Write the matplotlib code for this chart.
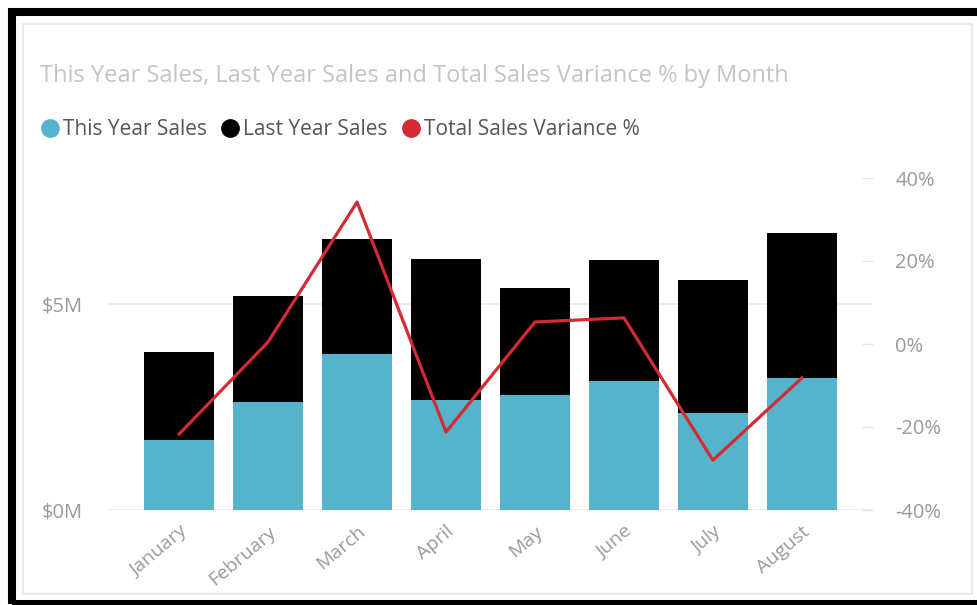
import matplotlib.pyplot as plt
import numpy as np
from matplotlib.lines import Line2D
from matplotlib.patches import Rectangle

plt.rcParams['font.family'] = ['Open Sans', 'DejaVu Sans']

months = ["January", "February", "March", "April", "May", "June", "July", "August"]
this_year = [1.70, 2.62, 3.79, 2.67, 2.79, 3.13, 2.35, 3.20]    # $M
last_year = [2.13, 2.57, 2.79, 3.42, 2.60, 2.94, 3.23, 3.52]    # $M
variance = [-21.7, 0.5, 34.2, -21.2, 5.3, 6.3, -28.0, -8.2]     # %

c_this = "#55b3cc"
c_last = "#000000"
c_var = "#d42a34"
grey_txt = "#9a9a9a"

W, H = 977, 605
fig = plt.figure(figsize=(W / 100, H / 100), dpi=100)

def px(x, y):
    return x / W, 1 - y / H

# outer black frame (runs off the right edge) and inner light panel
fig.patches.append(Rectangle(px(12, 604), (990 - 12) / W, (604 - 12) / H,
                             transform=fig.transFigure, fill=False,
                             edgecolor="black", linewidth=5.8, zorder=0))
fig.patches.append(Rectangle(px(23, 594), (972 - 23) / W, (594 - 24) / H,
                             transform=fig.transFigure, fill=False,
                             edgecolor="#e6e6e6", linewidth=1.2, zorder=0))

x0, y0 = px(108, 510)
x1, y1 = px(873, 178)
ax = fig.add_axes([x0, y0, x1 - x0, y1 - y0])
ax2 = ax.twinx()

x = np.arange(len(months))
ax.bar(x, this_year, width=0.78, color=c_this, zorder=2)
ax.bar(x, last_year, width=0.78, bottom=this_year, color=c_last, zorder=2)
ax.set_xlim(-0.8, 7.8)
ax.set_ylim(0, 8.06)
ax.set_yticks([0, 5])
ax.set_yticklabels(["$0M", "$5M"])
ax.grid(axis="y", color="#e8e8e8", linewidth=1.2, zorder=0)
ax.set_axisbelow(True)
ax.set_xticks(x)
ax.set_xticklabels(months, rotation=40, ha="right", rotation_mode="anchor")
ax.tick_params(axis="x", length=0, pad=9, labelsize=14, labelcolor=grey_txt)
ax.tick_params(axis="y", length=0, pad=18, labelsize=14.5, labelcolor=grey_txt)

ax2.plot(x, variance, color=c_var, linewidth=2.3, zorder=3)
ax2.set_ylim(-40, 40)
ax2.set_yticks([-40, -20, 0, 20, 40])
ax2.set_yticklabels(["-40%", "-20%", "0%", "20%", "40%"])
ax2.tick_params(axis="y", length=8, width=1, color="#e6e6e6", pad=16,
                labelsize=14.5, labelcolor=grey_txt, direction="in")

for a in (ax, ax2):
    for s in a.spines.values():
        s.set_visible(False)

fig.text(40 / W, 1 - 76 / H, "This Year Sales, Last Year Sales and Total Sales Variance % by Month",
         fontsize=17, color="#c4c4c4", va="center", ha="left")

handles = [Line2D([], [], marker="o", linestyle="", markersize=12.5, color=c)
           for c in (c_this, c_last, c_var)]
fig.legend(handles, ["This Year Sales", "Last Year Sales", "Total Sales Variance %"],
           loc="center left", bbox_to_anchor=px(37, 130), ncol=3, frameon=False,
           handletextpad=0.0, columnspacing=0.5, fontsize=15, labelcolor="#555555",
           handlelength=1.25, borderpad=0, borderaxespad=0)

fig.savefig("out.png", dpi=100)
